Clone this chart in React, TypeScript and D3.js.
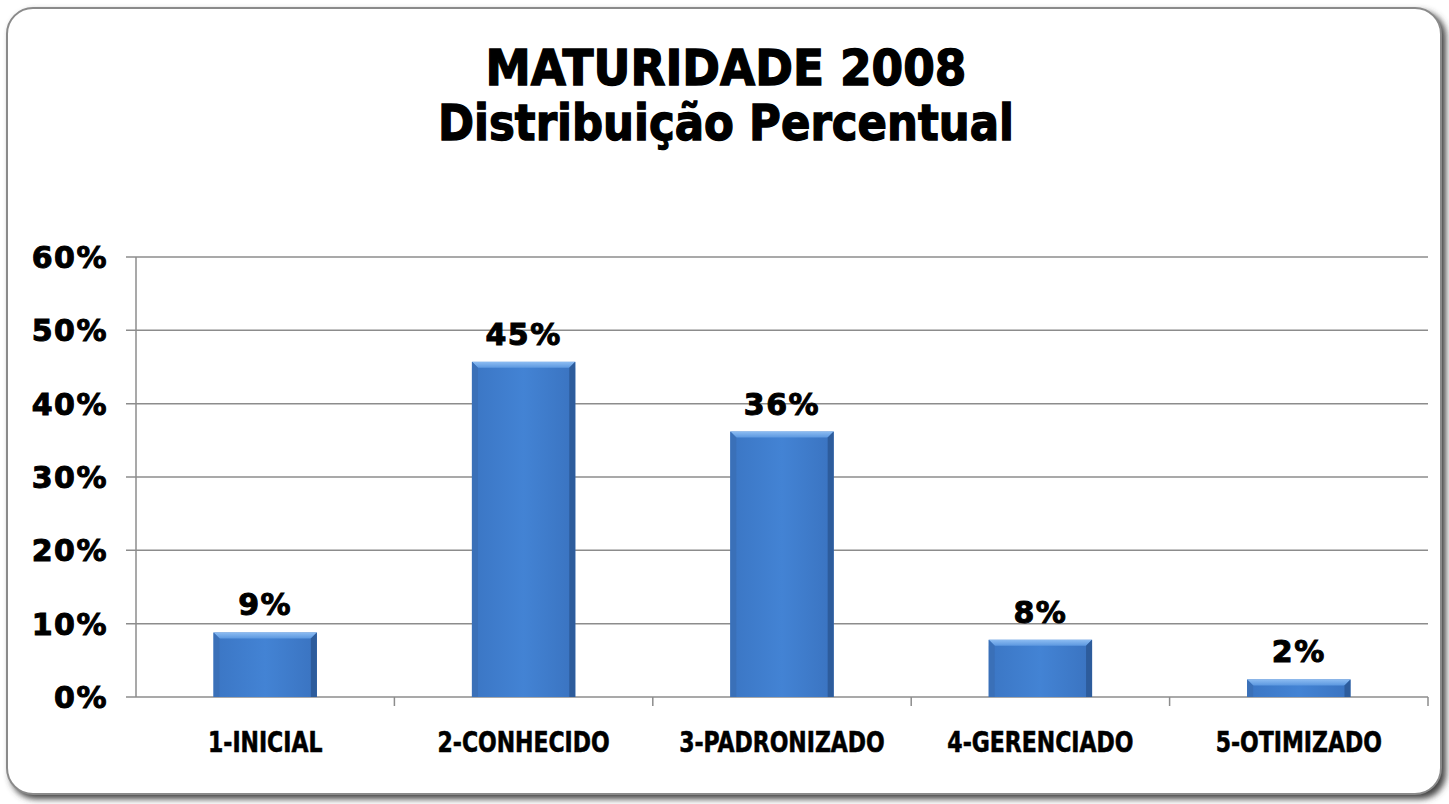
import React from "react";
import * as d3 from "d3";

const categories = ["1-INICIAL", "2-CONHECIDO", "3-PADRONIZADO", "4-GERENCIADO", "5-OTIMIZADO"];
const values = [0.088, 0.457, 0.362, 0.078, 0.024];
const valueLabels = ["9%", "45%", "36%", "8%", "2%"];
const yTicks = [0, 0.1, 0.2, 0.3, 0.4, 0.5, 0.6];
const titleLines = ["MATURIDADE 2008", "Distribuição Percentual"];

const W = 1449;
const H = 804;
const plot = { left: 136, right: 1428, top: 257, bottom: 697 };

export default function App() {
  const x = d3.scaleBand<string>().domain(categories).range([plot.left, plot.right]).padding(0);
  const y = d3.scaleLinear().domain([0, 0.6]).range([plot.bottom, plot.top]);
  const fmt = d3.format(".0%");
  const barW = x.bandwidth() * 0.4;
  const bev = 6;
  const gridColor = "#8c8c8c";
  const bold = "'DejaVu Sans', Verdana, sans-serif";

  return (
    <svg width={W} height={H} style={{ position: "absolute", left: 0, top: 0 }}>
      <defs>
        <filter id="shadow" x="-5%" y="-5%" width="110%" height="110%">
          <feGaussianBlur stdDeviation="3" />
        </filter>
        <linearGradient id="barFace" x1="0" y1="0" x2="1" y2="0">
          <stop offset="0" stopColor="#3b76c4" />
          <stop offset="0.5" stopColor="#4383d4" />
          <stop offset="1" stopColor="#3a73c0" />
        </linearGradient>
        <linearGradient id="bevTop" x1="0" y1="0" x2="0" y2="1">
          <stop offset="0" stopColor="#8cbcf2" />
          <stop offset="1" stopColor="#5c98e0" />
        </linearGradient>
      </defs>
      <rect width={W} height={H} fill="#ffffff" />
      {/* card shadow */}
      <rect x={10} y={11} width={1436} height={788} rx={26} fill="#444" filter="url(#shadow)" />
      <rect x={7} y={8} width={1434} height={786} rx={26} fill="#ffffff" stroke="#8a8a8a" strokeWidth={2} />

      {/* title */}
      <g stroke="#000" strokeWidth={1.4} fill="#000">
        <text x={726} y={85} textAnchor="middle" fontFamily={bold} fontWeight="bold" fontSize={50}
          textLength={481} lengthAdjust="spacingAndGlyphs">{titleLines[0]}</text>
        <text x={726} y={140} textAnchor="middle" fontFamily={bold} fontWeight="bold" fontSize={50}
          textLength={576} lengthAdjust="spacingAndGlyphs">{titleLines[1]}</text>
      </g>

      {/* gridlines and y ticks */}
      {yTicks.map((t) => (
        <g key={t}>
          {t > 0 && (
            <line x1={plot.left - 10} x2={plot.right} y1={y(t)} y2={y(t)} stroke={gridColor} strokeWidth={1.5} />
          )}
          <text x={108} y={y(t) + 11} textAnchor="end" fontFamily={bold} fontWeight="bold" fontSize={30}
            letterSpacing={1.5} fill="#000" stroke="#000" strokeWidth={1}>{fmt(t)}</text>
        </g>
      ))}

      {/* axes */}
      <line x1={plot.left} x2={plot.left} y1={plot.top} y2={plot.bottom} stroke={gridColor} strokeWidth={1.5} />
      <line x1={plot.left - 10} x2={plot.right} y1={plot.bottom} y2={plot.bottom} stroke={gridColor} strokeWidth={1.5} />
      {categories.map((c) => (
        <line key={"t" + c} x1={(x(c) as number) + x.bandwidth()} x2={(x(c) as number) + x.bandwidth()}
          y1={plot.bottom} y2={plot.bottom + 9} stroke={gridColor} strokeWidth={1.5} />
      ))}

      {/* bars */}
      {categories.map((c, i) => {
        const cx = (x(c) as number) + x.bandwidth() / 2;
        const x0 = cx - barW / 2;
        const x1 = cx + barW / 2;
        const y0 = y(values[i]);
        const y1 = plot.bottom;
        const b = Math.min(bev, (y1 - y0) / 2);
        return (
          <g key={c}>
            <rect x={x0} y={y0} width={barW} height={y1 - y0} fill="url(#barFace)" />
            <polygon points={`${x0},${y0} ${x1},${y0} ${x1 - b},${y0 + b} ${x0 + b},${y0 + b}`} fill="url(#bevTop)" />
            <polygon points={`${x0},${y0} ${x0 + b},${y0 + b} ${x0 + b},${y1} ${x0},${y1}`} fill="#3a70b8" />
            <polygon points={`${x1},${y0} ${x1 - b},${y0 + b} ${x1 - b},${y1} ${x1},${y1}`} fill="#2d5c9c" />
            <text x={cx} y={y0 - 17} textAnchor="middle" fontFamily={bold} fontWeight="bold" fontSize={30}
              letterSpacing={1.5} fill="#000" stroke="#000" strokeWidth={1}>{valueLabels[i]}</text>
          </g>
        );
      })}

      {/* x labels */}
      {categories.map((c) => (
        <text key={"l" + c} x={(x(c) as number) + x.bandwidth() / 2} y={752} textAnchor="middle"
          fontFamily="'DejaVu Sans Condensed', 'DejaVu Sans', sans-serif" fontStretch="condensed"
          fontWeight="bold" fontSize={26} fill="#000" stroke="#000" strokeWidth={0.5}
          transform={`translate(${(x(c) as number) + x.bandwidth() / 2},752) scale(0.94,1.08) translate(${-((x(c) as number) + x.bandwidth() / 2)},-752)`}>{c}</text>
      ))}
    </svg>
  );
}
